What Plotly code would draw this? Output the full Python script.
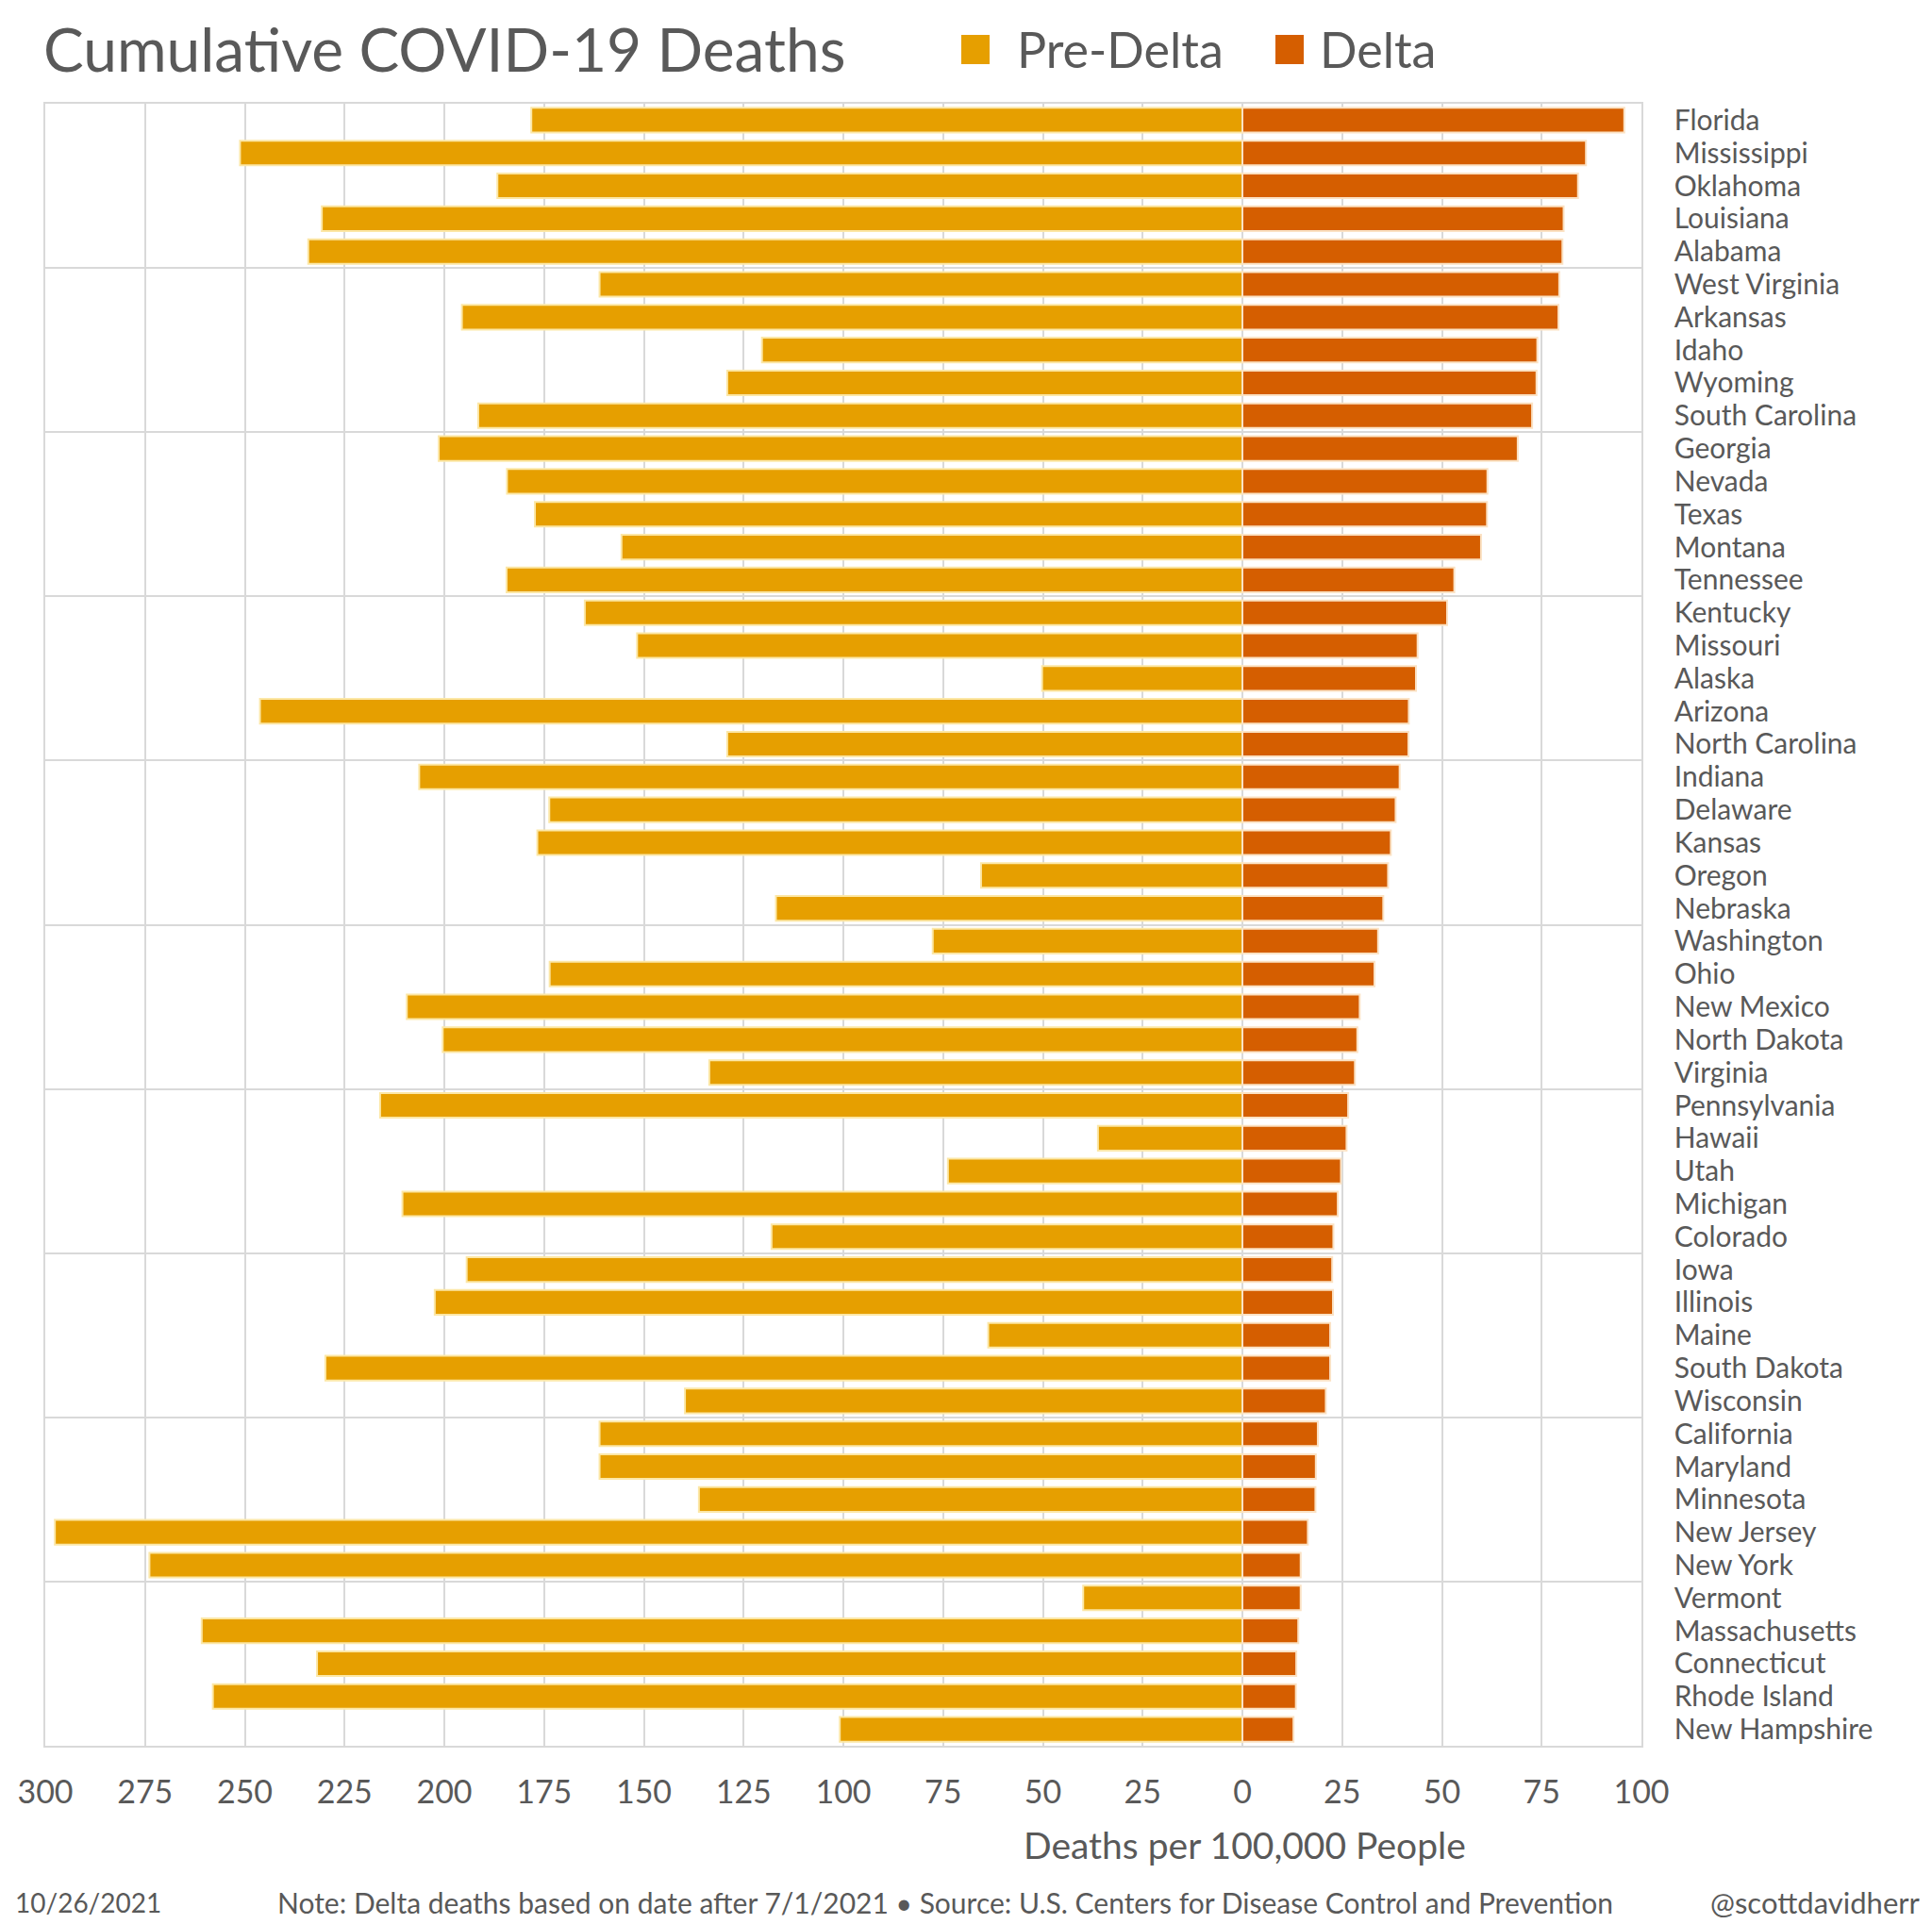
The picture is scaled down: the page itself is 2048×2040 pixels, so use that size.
import plotly.graph_objects as go

# ---------------- data ----------------
states = [
    "Florida", "Mississippi", "Oklahoma", "Louisiana", "Alabama",
    "West Virginia", "Arkansas", "Idaho", "Wyoming", "South Carolina",
    "Georgia", "Nevada", "Texas", "Montana", "Tennessee",
    "Kentucky", "Missouri", "Alaska", "Arizona", "North Carolina",
    "Indiana", "Delaware", "Kansas", "Oregon", "Nebraska",
    "Washington", "Ohio", "New Mexico", "North Dakota", "Virginia",
    "Pennsylvania", "Hawaii", "Utah", "Michigan", "Colorado",
    "Iowa", "Illinois", "Maine", "South Dakota", "Wisconsin",
    "California", "Maryland", "Minnesota", "New Jersey", "New York",
    "Vermont", "Massachusetts", "Connecticut", "Rhode Island", "New Hampshire",
]

pre_delta = [
    178.2, 251.2, 186.7, 230.7, 234.1,
    161.1, 195.6, 120.4, 129.1, 191.5,
    201.4, 184.3, 177.3, 155.6, 184.4,
    164.8, 151.7, 50.2, 246.2, 129.1,
    206.3, 173.7, 176.7, 65.5, 116.9,
    77.6, 173.6, 209.4, 200.4, 133.6,
    216.1, 36.2, 73.8, 210.5, 118.0,
    194.4, 202.4, 63.7, 229.8, 139.7,
    161.1, 161.1, 136.2, 297.6, 273.9,
    39.9, 260.8, 231.9, 258.0, 100.9,
]

delta = [
    95.7, 86.1, 84.1, 80.5, 80.2,
    79.4, 79.2, 73.9, 73.7, 72.6,
    69.0, 61.4, 61.3, 59.8, 53.1,
    51.3, 43.9, 43.5, 41.7, 41.6,
    39.4, 38.4, 37.2, 36.5, 35.3,
    34.0, 33.1, 29.4, 28.8, 28.2,
    26.5, 26.1, 24.7, 23.9, 22.8,
    22.5, 22.7, 22.0, 22.0, 20.9,
    18.9, 18.4, 18.3, 16.4, 14.6,
    14.6, 14.0, 13.5, 13.4, 12.8,
]

x_ticks = list(range(-300, 101, 25))
x_tick_labels = [str(abs(v)) for v in x_ticks]

title_text = "Cumulative COVID-19 Deaths"
series_names = ["Pre-Delta", "Delta"]
axis_title = "Deaths per 100,000 People"
date_text = "10/26/2021"
note_text = ("Note: Delta deaths based on date after 7/1/2021 \u2022 "
             "Source: U.S. Centers for Disease Control and Prevention")
credit_text = "@scottdavidherr"

# ---------------- style ----------------
PRE_COLOR = "#E69F00"
DELTA_COLOR = "#D55E00"
PRE_EDGE = "#FCE7A6"
DELTA_EDGE = "#FBE2C4"
GRID = "#D9D9D9"
TEXT = "#595959"
FONT = "Lato"

W, H = 2048, 2040
L, R, T, B = 48, 308, 110, 189
PW, PH = W - L - R, H - T - B


def px(x):
    return (x - L) / PW


def py(y):
    return (H - B - y) / PH


y_pos = list(range(len(states)))

fig = go.Figure()
fig.add_trace(go.Bar(
    y=y_pos, x=[-v for v in pre_delta], orientation="h",
    name=series_names[0], customdata=list(zip(states, pre_delta)),
    hovertemplate="%{customdata[0]}<br>Pre-Delta: %{customdata[1]}<extra></extra>",
    marker=dict(color=PRE_COLOR, line=dict(color=PRE_EDGE, width=2)),
))
fig.add_trace(go.Bar(
    y=y_pos, x=delta, orientation="h",
    name=series_names[1], customdata=list(zip(states, delta)),
    hovertemplate="%{customdata[0]}<br>Delta: %{customdata[1]}<extra></extra>",
    marker=dict(color=DELTA_COLOR, line=dict(color=DELTA_EDGE, width=2)),
))

annotations = [
    dict(text=title_text, x=px(44), y=py(52), xanchor="left", yanchor="middle",
         font=dict(family=FONT, size=64, color=TEXT)),
    dict(text=series_names[0], x=px(1076), y=py(52), xanchor="left", yanchor="middle",
         font=dict(family=FONT, size=52, color=TEXT)),
    dict(text=series_names[1], x=px(1397), y=py(52), xanchor="left", yanchor="middle",
         font=dict(family=FONT, size=52, color=TEXT)),
    dict(text=axis_title, x=px(1319), y=py(1956), xanchor="center", yanchor="middle",
         font=dict(family=FONT, size=39, color=TEXT)),
    dict(text=date_text, x=px(14), y=py(2017), xanchor="left", yanchor="middle",
         font=dict(family=FONT, size=28, color=TEXT)),
    dict(text=note_text, x=px(1002), y=py(2017), xanchor="center", yanchor="middle",
         font=dict(family=FONT, size=30, color=TEXT)),
    dict(text=credit_text, x=px(2038), y=py(2017), xanchor="right", yanchor="middle",
         font=dict(family=FONT, size=31, color=TEXT)),
]
for a in annotations:
    a.update(xref="paper", yref="paper", showarrow=False)

shapes = [
    dict(type="rect", xref="paper", yref="paper",
         x0=px(1019), x1=px(1049), y0=py(68), y1=py(37),
         fillcolor=PRE_COLOR, line=dict(width=0)),
    dict(type="rect", xref="paper", yref="paper",
         x0=px(1352), x1=px(1382), y0=py(68), y1=py(37),
         fillcolor=DELTA_COLOR, line=dict(width=0)),
]

fig.update_layout(
    width=W, height=H,
    margin=dict(l=L, r=R, t=T, b=B),
    paper_bgcolor="white", plot_bgcolor="white",
    barmode="relative", bargap=0.25,
    showlegend=False,
    font=dict(family=FONT, color=TEXT),
    annotations=annotations, shapes=shapes,
    xaxis=dict(
        range=[-300, 100], tickvals=x_ticks, ticktext=x_tick_labels,
        showgrid=True, gridcolor=GRID, gridwidth=1.5, zeroline=False,
        ticks="", ticklabelstandoff=18,
        tickfont=dict(family=FONT, size=34, color=TEXT),
        showline=True, mirror=True, linecolor=GRID, linewidth=1.5,
    ),
    yaxis=dict(
        range=[len(states) - 0.5, -0.5], tickvals=y_pos, ticktext=states,
        side="right", showgrid=False, zeroline=False,
        ticks="", ticklabelstandoff=27,
        tickfont=dict(family=FONT, size=30, color=TEXT),
        showline=True, mirror=True, linecolor=GRID, linewidth=1.5,
        minor=dict(tick0=-0.5, dtick=5, showgrid=True, gridcolor=GRID,
                   gridwidth=1.5, ticks=""),
    ),
)

fig.write_html("out.html")
